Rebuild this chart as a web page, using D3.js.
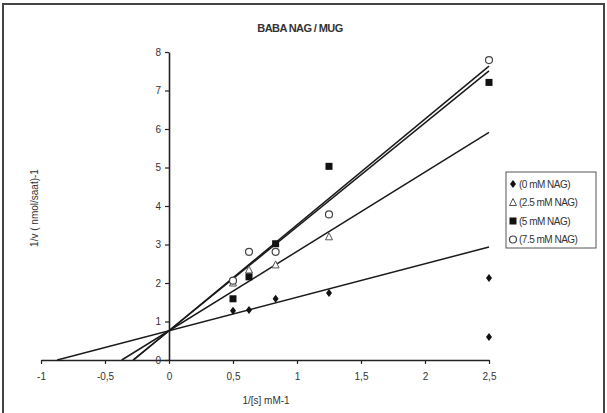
<!DOCTYPE html>
<html>
<head>
<meta charset="utf-8">
<script src="https://cdn.jsdelivr.net/npm/d3@7"></script>
<style>
  body { margin: 0; background: #fff; }
  svg { display: block; }
  text { font-family: "Liberation Sans", Arial, sans-serif; fill: #333; }
</style>
</head>
<body>
<svg id="chart" width="607" height="413"></svg>
<script>

// series names (legend)
var seriesNames = ['(0 mM NAG)', '(2.5 mM NAG)', '(5 mM NAG)', '(7.5 mM NAG)'];
var markerTypes = ['diamond', 'triangle', 'square', 'circle'];

// 1/[s] values and 1/v values
var xNag0 = [0.5, 0.625, 0.833, 1.25, 2.5, 2.5];
var yNag0 = [1.28, 1.30, 1.59, 1.74, 2.13, 0.60];
var xNag25 = [0.5, 0.625, 0.833, 1.25];
var yNag25 = [2.00, 2.34, 2.47, 3.20];
var xNag5 = [0.5, 0.625, 0.833, 1.25, 2.5];
var yNag5 = [1.59, 2.16, 3.02, 5.03, 7.21];
var xNag75 = [0.5, 0.625, 0.833, 1.25, 2.5];
var yNag75 = [2.06, 2.81, 2.81, 3.78, 7.79];

// trend lines: intercept and slope
var lineIntercepts = [0.76, 0.76, 0.76, 0.76];
var lineSlopes = [0.87, 2.06, 2.70, 2.75];

var xTicks = [-1, -0.5, 0, 0.5, 1, 1.5, 2, 2.5];
var yTicks = [0, 1, 2, 3, 4, 5, 6, 7, 8];

var svg = d3.select('#chart');

// outer frame
svg.append('rect')
    .attr('x', 3).attr('y', 4)
    .attr('width', 601).attr('height', 420)
    .attr('fill', 'none')
    .attr('stroke', '#444')
    .attr('stroke-width', 2);

var x = d3.scaleLinear().domain([-1, 2.5]).range([41, 489]);
var y = d3.scaleLinear().domain([0, 8]).range([360, 52]);

function fmt(d) { return String(d).replace('.', ','); }

var xAxis = svg.append('g')
    .attr('transform', 'translate(0,' + y(0) + ')')
    .call(d3.axisBottom(x).tickValues(xTicks).tickFormat(fmt)
        .tickSize(4).tickPadding(9).tickSizeOuter(0));

var yAxis = svg.append('g')
    .attr('transform', 'translate(' + x(0) + ',0)')
    .call(d3.axisLeft(y).tickValues(yTicks).tickFormat(fmt)
        .tickSize(4).tickPadding(4).tickSizeOuter(0));

[xAxis, yAxis].forEach(function(ax) {
    ax.select('.domain').attr('stroke', '#222').attr('stroke-width', 1.6);
    ax.selectAll('.tick line').attr('stroke', '#222').attr('stroke-width', 1.2);
    ax.selectAll('.tick text')
        .attr('fill', '#333')
        .style('font-size', '10px')
        .style('font-family', '"Liberation Sans", Arial, sans-serif');
});

// trend lines from x intercept to x = 2.5
lineIntercepts.forEach(function(a, i) {
    var b = lineSlopes[i],
        x0 = -a / b,
        x1 = 2.5;
    svg.append('line')
        .attr('x1', x(x0)).attr('y1', y(0))
        .attr('x2', x(x1)).attr('y2', y(a + b * x1))
        .attr('stroke', '#1a1a1a')
        .attr('stroke-width', 1.5);
});

function marker(g, type, cx, cy) {
    if (type === 'diamond') {
        g.append('path')
            .attr('d', 'M' + cx + ',' + (cy - 4) + 'L' + (cx + 3) + ',' + cy +
                'L' + cx + ',' + (cy + 4) + 'L' + (cx - 3) + ',' + cy + 'Z')
            .attr('fill', '#111');
    } else if (type === 'triangle') {
        g.append('path')
            .attr('d', 'M' + cx + ',' + (cy - 4) + 'L' + (cx + 3.5) + ',' + (cy + 3) +
                'L' + (cx - 3.5) + ',' + (cy + 3) + 'Z')
            .attr('fill', '#fff').attr('stroke', '#555').attr('stroke-width', 1);
    } else if (type === 'square') {
        g.append('rect')
            .attr('x', cx - 3.5).attr('y', cy - 3.5)
            .attr('width', 7).attr('height', 7)
            .attr('fill', '#111');
    } else {
        g.append('circle')
            .attr('cx', cx).attr('cy', cy).attr('r', 3.5)
            .attr('fill', '#fff').attr('stroke', '#444').attr('stroke-width', 1.2);
    }
}

var seriesX = [xNag0, xNag25, xNag5, xNag75];
var seriesY = [yNag0, yNag25, yNag5, yNag75];

var points = svg.append('g');
seriesX.forEach(function(xs, i) {
    xs.forEach(function(v, j) {
        marker(points, markerTypes[i], x(v), y(seriesY[i][j]));
    });
});

// title
svg.append('text')
    .attr('x', 300).attr('y', 32)
    .attr('text-anchor', 'middle')
    .style('font-size', '11px')
    .style('font-weight', 'bold')
    .style('letter-spacing', '-0.6px')
    .text('BABA NAG / MUG');

// axis titles
svg.append('text')
    .attr('transform', 'translate(38,208) rotate(-90)')
    .attr('text-anchor', 'middle')
    .style('font-size', '10px')
    .text('1/v ( nmol/saat)-1');

svg.append('text')
    .attr('x', 266).attr('y', 404)
    .attr('text-anchor', 'middle')
    .style('font-size', '10px')
    .text('1/[s] mM-1');

// legend
var legend = svg.append('g');
legend.append('rect')
    .attr('x', 506).attr('y', 172)
    .attr('width', 90).attr('height', 76)
    .attr('fill', '#fff')
    .attr('stroke', '#555')
    .attr('stroke-width', 1);

seriesNames.forEach(function(name, i) {
    var ly = 184 + i * 18.5;
    marker(legend, markerTypes[i], 513, ly);
    legend.append('text')
        .attr('x', 519).attr('y', ly + 3.5)
        .style('font-size', '10px')
        .style('letter-spacing', '-0.5px')
        .text(name);
});

</script>
</body>
</html>
